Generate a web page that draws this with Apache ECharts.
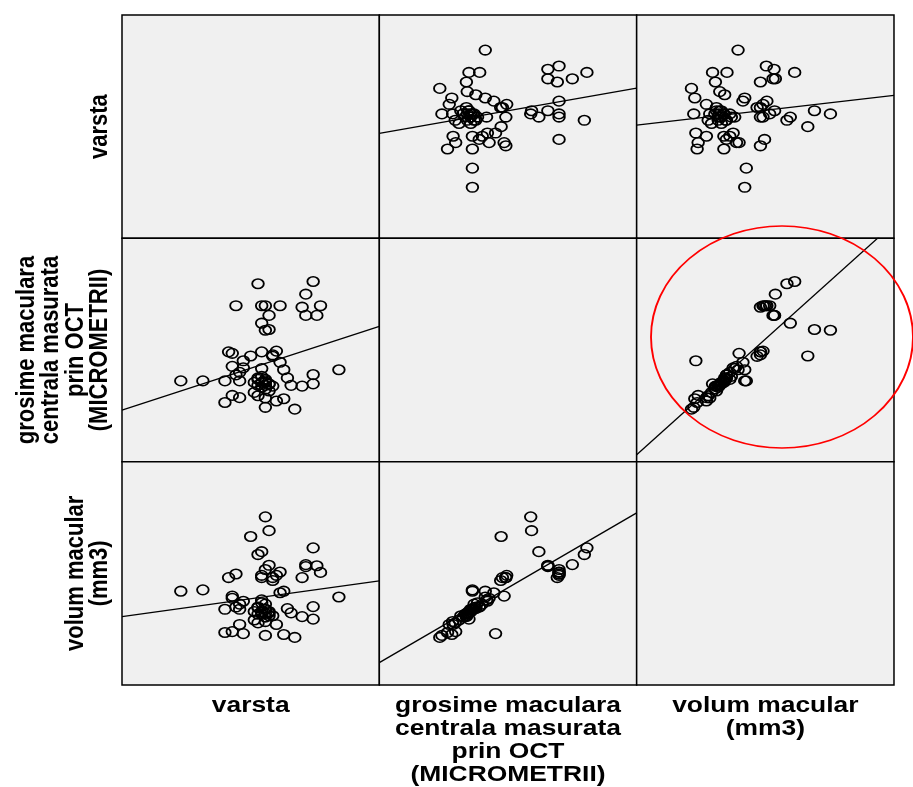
<!DOCTYPE html>
<html>
<head>
<meta charset="utf-8">
<script src="https://cdn.jsdelivr.net/npm/echarts@6/dist/echarts.min.js"></script>
<style>
  html, body { margin: 0; padding: 0; background: #fff; }
  #main { width: 913px; height: 787px; }
</style>
</head>
<body>
<div id="main"></div>
<script>
// etichetele variabilelor (ordinea din matrice)
var varLabels = [
  ['varsta'],
  ['grosime maculara', 'centrala masurata', 'prin OCT', '(MICROMETRII)'],
  ['volum macular', '(mm3)']
];

// date pe pacient
var varsta = [89, 82, 82, 83, 84, 82, 80, 79, 80, 77,
  79, 76, 75, 74, 74, 73, 72, 71, 71, 72,
  69, 69, 70, 70, 69, 68, 67, 66, 68, 68,
  70, 68, 70, 73, 69, 68, 67, 65, 62, 60,
  58, 62, 61, 63, 63, 60, 60, 59, 58, 61,
  52, 46, 69, 67, 69, 67, 69, 69, 66, 62,
  71, 68, 69, 67, 70, 68];
var grosime = [247, 209, 234, 393, 419, 484, 393, 415, 450, 141,
  203, 205, 225, 169, 247, 267, 163, 203, 287, 297,
  146, 171, 190, 209, 221, 213, 177, 186, 250, 295,
  355, 372, 393, 419, 419, 419, 478, 284, 172, 178,
  159, 217, 233, 252, 271, 256, 291, 295, 217, 419,
  217, 217, 353, 205, 217, 225, 205, 195, 213, 240,
  283, 200, 213, 221, 208, 229];
var volum = [7.94, 6.95, 7.51, 9.34, 9.04, 10.14, 9.30, 8.81, 9.39, 6.13,
  7.06, 7.23, 7.42, 6.26, 8.20, 8.13, 6.71, 7.10, 8.81, 8.91,
  6.22, 6.84, 7.10, 7.29, 7.62, 7.29, 6.78, 6.91, 7.81, 8.81,
  10.91, 9.97, 9.36, 9.06, 9.17, 8.91, 9.84, 10.65, 6.71, 6.39,
  6.35, 7.39, 7.49, 7.75, 6.30, 7.88, 7.98, 8.81, 7.39, 8.97,
  8.26, 8.20, 11.53, 7.17, 7.39, 7.49, 7.20, 7.04, 7.29, 7.62,
  8.68, 7.17, 7.39, 7.46, 7.23, 7.68];

// domeniul axelor (acelasi pe x si pe y pentru fiecare variabila)
var axisMin = [30, 0, 4];
var axisMax = [100, 600, 14];

var vars = [varsta, grosime, volum];

// dreapta de regresie (cele mai mici patrate)
function fit(xs, ys) {
  var n = xs.length, mx = 0, my = 0, sxx = 0, sxy = 0;
  for (var i = 0; i < n; i++) { mx += xs[i]; my += ys[i]; }
  mx /= n; my /= n;
  for (var j = 0; j < n; j++) {
    sxx += (xs[j] - mx) * (xs[j] - mx);
    sxy += (xs[j] - mx) * (ys[j] - my);
  }
  var b = sxy / sxx;
  return { a: my - b * mx, b: b };
}

var left0 = 122, top0 = 15, cellW = 257.33, cellH = 223.33;
var grids = [], xAxes = [], yAxes = [], series = [], graphics = [];

for (var r = 0; r < 3; r++) {
  for (var c = 0; c < 3; c++) {
    var k = r * 3 + c;
    grids.push({
      left: left0 + c * cellW, top: top0 + r * cellH,
      width: cellW, height: cellH,
      show: true, backgroundColor: '#f0f0f0',
      borderColor: '#000', borderWidth: 1.5
    });
    xAxes.push({ gridIndex: k, type: 'value', min: axisMin[c], max: axisMax[c], show: false });
    yAxes.push({ gridIndex: k, type: 'value', min: axisMin[r], max: axisMax[r], show: false });
    if (r === c) continue;

    var xs = vars[c], ys = vars[r];
    var pts = xs.map(function (v, i) { return [v, ys[i]]; });
    series.push({
      type: 'scatter', xAxisIndex: k, yAxisIndex: k,
      data: pts, symbol: 'circle', symbolSize: [11.6, 9.6],
      itemStyle: { color: 'rgba(0,0,0,0)', borderColor: '#000', borderWidth: 1.7, opacity: 1 },
      emphasis: { disabled: true }, silent: true
    });
    var f = fit(xs, ys);
    series.push({
      type: 'line', xAxisIndex: k, yAxisIndex: k,
      data: [[axisMin[c], f.a + f.b * axisMin[c]], [axisMax[c], f.a + f.b * axisMax[c]]],
      showSymbol: false, symbol: 'none', clip: true,
      lineStyle: { color: '#000', width: 1.3 },
      emphasis: { disabled: true }, silent: true, z: 3
    });
  }
}

var labelFont = { fontSize: 22, fontWeight: 'bold', fontFamily: '"Liberation Sans", Arial, sans-serif', fill: '#000' };

// etichete jos (orizontale)
varLabels.forEach(function (lines, c) {
  lines.forEach(function (t, i) {
    graphics.push({
      type: 'text', x: left0 + (c + 0.5) * cellW, y: 706 + i * 23,
      scaleX: 1.2, silent: true,
      style: Object.assign({ text: t, align: 'center', verticalAlign: 'middle' }, labelFont)
    });
  });
});

// etichete stanga (verticale)
varLabels.forEach(function (lines, r) {
  var n = lines.length;
  lines.forEach(function (t, i) {
    graphics.push({
      type: 'text', x: 100 - (n - 1 - i) * 24.5, y: top0 + (r + 0.5) * cellH,
      rotation: Math.PI / 2, scaleY: 1.2, silent: true,
      style: Object.assign({ text: t, align: 'center', verticalAlign: 'middle' }, labelFont)
    });
  });
});

// elipsa rosie
graphics.push({
  type: 'circle', x: 782, y: 337, scaleX: 131 / 111, silent: true, z: 100,
  shape: { cx: 0, cy: 0, r: 111 },
  style: { fill: 'none', stroke: '#ff0000', lineWidth: 1.6, strokeNoScale: true }
});

var chart = echarts.init(document.getElementById('main'), null, { renderer: 'canvas' });
chart.setOption({
  animation: false,
  grid: grids,
  xAxis: xAxes,
  yAxis: yAxes,
  series: series,
  graphic: { elements: graphics }
});
</script>
</body>
</html>
